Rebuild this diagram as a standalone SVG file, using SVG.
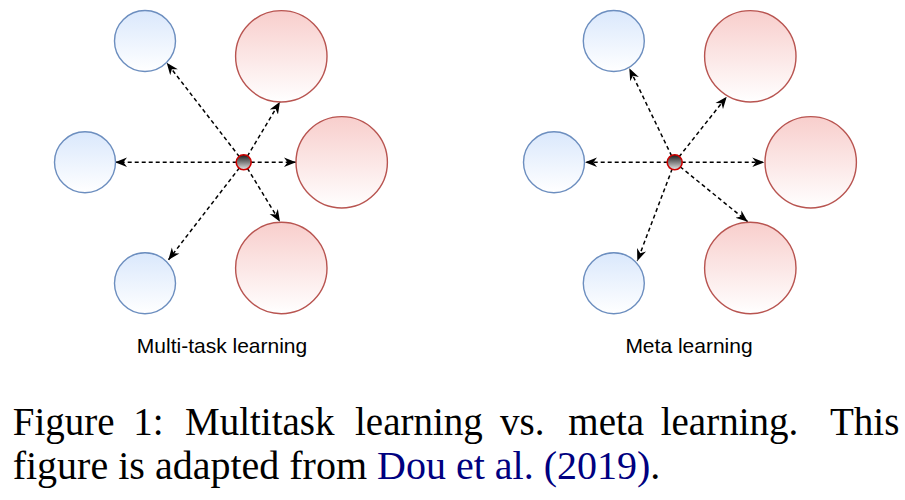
<svg xmlns="http://www.w3.org/2000/svg" width="905" height="500" viewBox="0 0 905 500">
<defs>
<linearGradient id="gBlue" x1="0" y1="0" x2="0" y2="1"><stop offset="0" stop-color="#dae8fc"/><stop offset="1" stop-color="#ffffff"/></linearGradient>
<linearGradient id="gRed" x1="0" y1="0" x2="0" y2="1"><stop offset="0" stop-color="#f8cecc"/><stop offset="1" stop-color="#ffffff"/></linearGradient>
<linearGradient id="gHub" x1="0" y1="0" x2="0" y2="1"><stop offset="0" stop-color="#1a1a1a"/><stop offset="1" stop-color="#e6e6e6"/></linearGradient>
<marker id="arr" markerUnits="userSpaceOnUse" markerWidth="12" markerHeight="12" viewBox="0 0 10 10" refX="10" refY="5" orient="auto">
<path d="M0,1 L10,5 L0,9 L3,5 Z" fill="#000"/>
</marker>
</defs>
<style>
.blue{fill:url(#gBlue);stroke:#6c8ebf;stroke-width:1.4}
.red{fill:url(#gRed);stroke:#b85450;stroke-width:1.4}
.hub{fill:url(#gHub);stroke:#cc0000;stroke-width:1.6}
.edge{stroke:#000;stroke-width:1.5;stroke-dasharray:4 3;fill:none;marker-end:url(#arr)}
.lbl{font-family:"Liberation Sans",Arial,sans-serif;font-size:21px;fill:#000;text-anchor:middle}
.cap{font-family:"Liberation Serif","Times New Roman",serif;font-size:40px;fill:#000}
.link{fill:#000080}
</style>
<g id="connectors">
<line class="edge" x1="243.7" y1="162.3" x2="115" y2="162.3"/>
<line class="edge" x1="243.7" y1="162.3" x2="296" y2="162.3"/>
<line class="edge" x1="243.7" y1="162.3" x2="166.7" y2="62.7"/>
<line class="edge" x1="243.7" y1="162.3" x2="280" y2="101.7"/>
<line class="edge" x1="243.7" y1="162.3" x2="280" y2="221.7"/>
<line class="edge" x1="243.7" y1="162.3" x2="168.3" y2="260"/>
<line class="edge" x1="674.7" y1="162.3" x2="585" y2="162.3"/>
<line class="edge" x1="674.7" y1="162.3" x2="764.3" y2="162.3"/>
<line class="edge" x1="674.7" y1="162.3" x2="629.3" y2="68.3"/>
<line class="edge" x1="674.7" y1="162.3" x2="726.7" y2="96.7"/>
<line class="edge" x1="674.7" y1="162.3" x2="747.7" y2="221.7"/>
<line class="edge" x1="674.7" y1="162.3" x2="637.3" y2="261"/>
</g>
<g id="mt-blue-top"><circle class="blue" cx="145" cy="41" r="30.5"/></g>
<g id="mt-blue-left"><circle class="blue" cx="85" cy="162.3" r="30.5"/></g>
<g id="mt-blue-bottom"><circle class="blue" cx="145" cy="283.2" r="30.5"/></g>
<g id="mt-red-top"><circle class="red" cx="281.3" cy="56.3" r="45.7"/></g>
<g id="mt-red-right"><circle class="red" cx="341.7" cy="162.3" r="45.7"/></g>
<g id="mt-red-bottom"><circle class="red" cx="281.3" cy="268" r="45.7"/></g>
<g id="mt-hub"><circle class="hub" cx="243.7" cy="162.3" r="7.5"/></g>
<g id="mt-label"><text class="lbl" x="222" y="352.7">Multi-task learning</text></g>
<g id="ml-blue-top"><circle class="blue" cx="613.8" cy="41" r="30.5"/></g>
<g id="ml-blue-left"><circle class="blue" cx="554" cy="162.3" r="30.5"/></g>
<g id="ml-blue-bottom"><circle class="blue" cx="613.8" cy="283.2" r="30.5"/></g>
<g id="ml-red-top"><circle class="red" cx="750.3" cy="56.3" r="45.7"/></g>
<g id="ml-red-right"><circle class="red" cx="810.7" cy="162.3" r="45.7"/></g>
<g id="ml-red-bottom"><circle class="red" cx="750.3" cy="268" r="45.7"/></g>
<g id="ml-hub"><circle class="hub" cx="674.7" cy="162.3" r="7.5"/></g>
<g id="ml-label"><text class="lbl" x="689" y="352.7">Meta learning</text></g>
<g id="caption">
<text class="cap" y="435" style="font-size:39px"><tspan x="12.7">Figure</tspan><tspan x="133.3">1:</tspan><tspan x="185">Multitask</tspan><tspan x="355">learning</tspan><tspan x="500">vs.</tspan><tspan x="568.3">meta</tspan><tspan x="660.7">learning.</tspan><tspan x="830">This</tspan></text>
<text class="cap" x="12.7" y="479">figure is adapted from <tspan class="link">Dou et al.</tspan> <tspan class="link">(2019)</tspan>.</text>
</g>
</svg>
